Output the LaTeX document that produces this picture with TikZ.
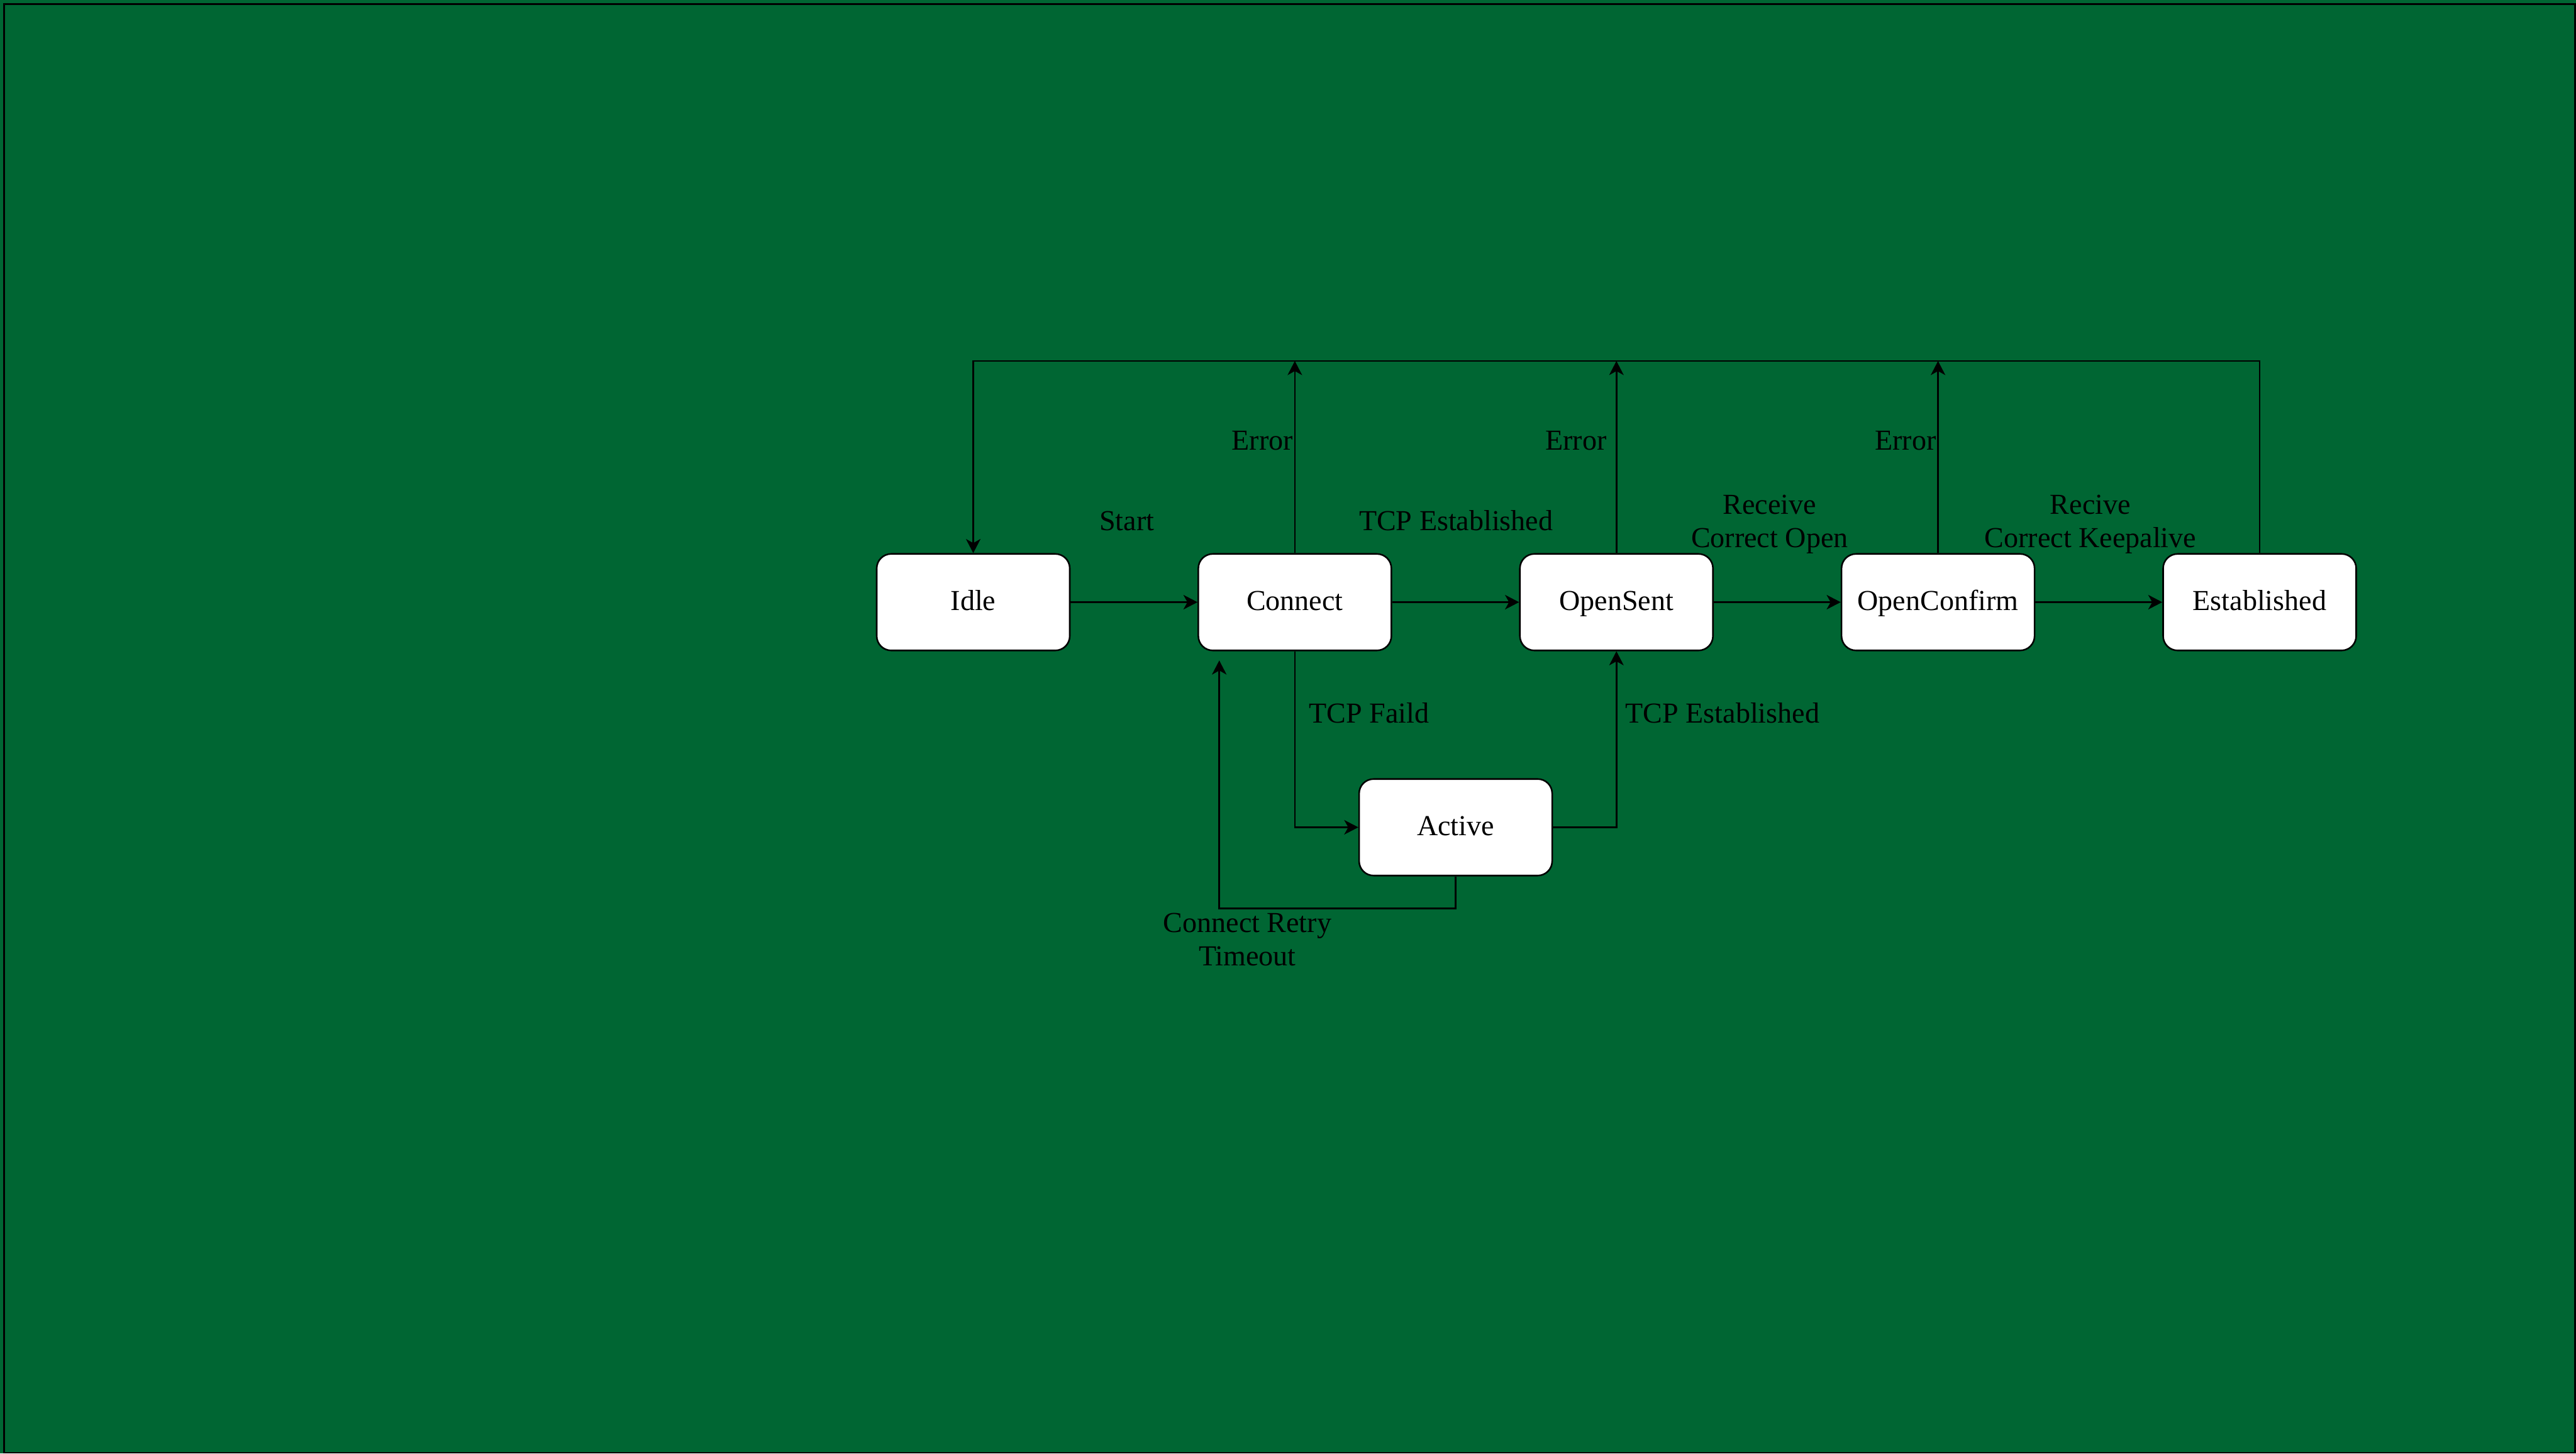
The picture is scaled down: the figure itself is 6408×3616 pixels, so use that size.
\documentclass[tikz,border=0pt]{standalone}
\usepackage{fontspec}
\setmainfont{Liberation Serif}
\usetikzlibrary{arrows.meta}
\definecolor{bggreen}{HTML}{006633}
\newcommand{\lblfont}{\fontsize{20.49pt}{23.61pt}\selectfont}
\begin{document}
\begin{tikzpicture}[x=0.01cm,y=-0.01cm,
  statebox/.style={draw=black, fill=white, line width=0.04cm, rounded corners=0.36cm,
    minimum width=4.8cm, minimum height=2.4cm, inner sep=0pt, font=\lblfont,
    text height=0.446cm, text depth=0.03cm},
  lbl/.style={inner sep=0pt, font=\lblfont},
  conn/.style={draw=black, line width=0.04cm,
    -{Stealth[length=0.35cm,width=0.36cm,inset=0.1cm]}},
  plain/.style={draw=black, line width=0.04cm}]
\useasboundingbox (0,0) rectangle (6408,3616);
\fill[bggreen] (0,0) rectangle (6408,3616);
\draw[line width=0.04cm] (10,10) rectangle (6406,3614);

% states
\node[statebox] (idle) at (2421,1498) {Idle};
\node[statebox] (connect) at (3221,1498) {Connect};
\node[statebox] (opensent) at (4021,1498) {OpenSent};
\node[statebox] (openconfirm) at (4821,1498) {OpenConfirm};
\node[statebox] (established) at (5621,1498) {Established};
\node[statebox] (active) at (3621,2058) {Active};

\coordinate (topline) at (0,898);
\coordinate (retry) at (3033,1643);

% main chain
\draw[conn] (idle) -- (connect);
\draw[conn] (connect) -- (opensent);
\draw[conn] (opensent) -- (openconfirm);
\draw[conn] (openconfirm) -- (established);

% top loop back to idle
\draw[conn] (established.north) -- (established.north |- topline) -| (idle.north);

% error arrows
\draw[conn] (connect.north) -- (connect.north |- topline);
\draw[conn] (opensent.north) -- (opensent.north |- topline);
\draw[conn] (openconfirm.north) -- (openconfirm.north |- topline);

% active
\draw[conn] (connect.south) |- (active.west);
\draw[conn] (active.east) -| (opensent.south);
\draw[conn] (active.south) -- ++(0,80) -| (retry);

% labels
\node[lbl, anchor=base] (lstart) at (2803,1319) {Start};
\node[lbl, anchor=base] (ltcp1) at (3622,1319) {TCP Established};
\node[lbl, anchor=base east] (lerr1) at (3217,1119) {Error};
\node[lbl, anchor=base east] (lerr2) at (3997,1119) {Error};
\node[lbl, anchor=base east] (lerr3) at (4817,1119) {Error};
\node[lbl, anchor=base] (lrecv) at (4402,1279) {\begin{tabular}[t]{@{}c@{}}Receive\\Correct Open\end{tabular}};
\node[lbl, anchor=base] (lkeep) at (5200,1279) {\begin{tabular}[t]{@{}c@{}}Recive\\Correct Keepalive\end{tabular}};
\node[lbl, anchor=base west] (lfail) at (3256,1798) {TCP Faild};
\node[lbl, anchor=base west] (ltcp2) at (4043,1798) {TCP Established};
\node[lbl, anchor=base] (lretry) at (3103,2319) {\begin{tabular}[t]{@{}c@{}}Connect Retry\\Timeout\end{tabular}};
\end{tikzpicture}
\end{document}
